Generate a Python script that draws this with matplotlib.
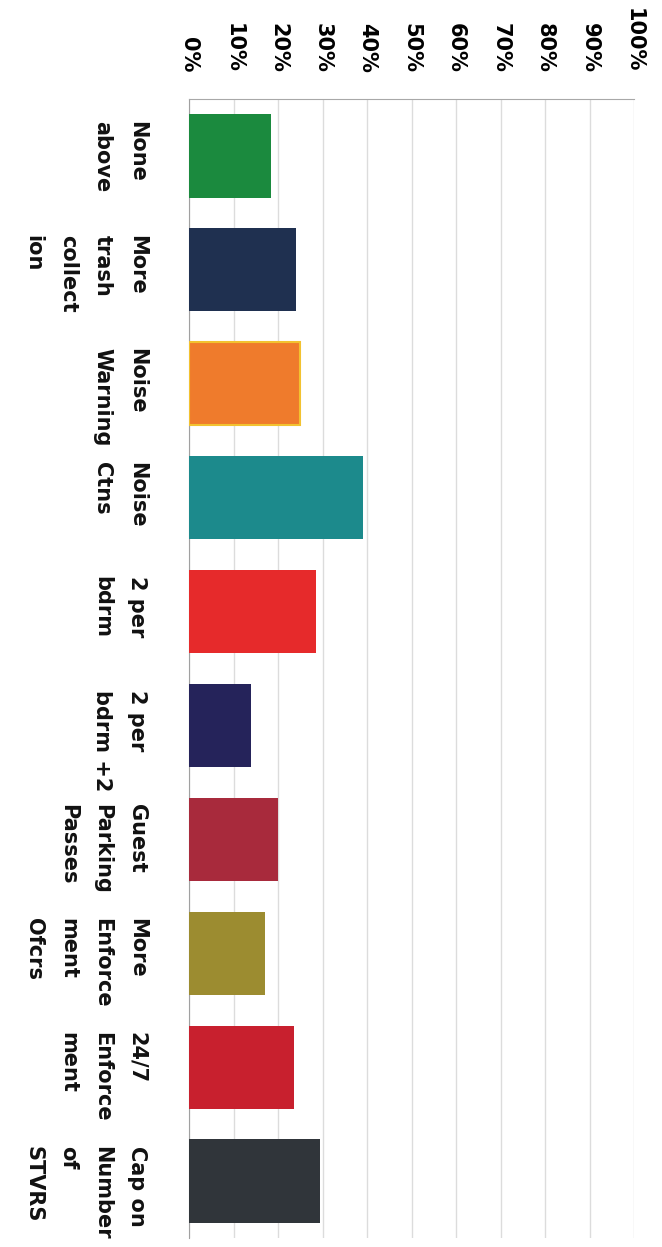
import matplotlib.pyplot as plt

# Survey results (share of respondents), chart is drawn rotated like the scan
labels = ["None\nabove", "More\ntrash\ncollect\nion", "Noise\nWarning", "Noise\nCtns",
          "2 per\nbdrm", "2 per\nbdrm +2", "Guest\nParking\nPasses",
          "More\nEnforce\nment\nOfcrs", "24/7\nEnforce\nment", "Cap on\nNumber\nof\nSTVRS"]
values = [18.5, 24, 25, 39, 28.5, 14, 20, 17, 23.5, 29.5]
colors = ["#1b8a3e", "#1f3050", "#ef7b2c", "#1c8a8c", "#e62a2b",
          "#25235a", "#a82a3c", "#9c8c30", "#c8202e", "#30353a"]
ticks = list(range(0, 101, 10))

fig = plt.figure(figsize=(6.62, 12.47), dpi=100)
ax = fig.add_axes([189 / 662, 1 - 1238 / 1247, 445 / 662, (1238 - 99) / 1247])

pos = list(range(len(values)))
bars = ax.barh(pos, values, height=0.73, color=colors, zorder=3)
bars[2].set_edgecolor("#f2c230")
bars[2].set_linewidth(1.5)

ax.set_xlim(0, 100)
ax.set_ylim(len(values) - 0.5, -0.5)
ax.xaxis.tick_top()
ax.set_xticks(ticks)
ax.set_xticklabels([f"{t}%" for t in ticks])
ax.tick_params(axis="x", length=0, pad=19, labelrotation=-90, labelsize=15)
for t in ax.get_xticklabels():
    t.set_fontweight("bold")
ax.set_yticks([])
ax.grid(axis="x", color="#dcdcdc", linewidth=1, zorder=0)

for s in ["right", "bottom"]:
    ax.spines[s].set_visible(False)
ax.spines["top"].set_color("#a8a8a8")
ax.spines["left"].set_color("#a0a0a0")

for p, lab in zip(pos, labels):
    ax.text(-0.095, p - 0.31, lab, transform=ax.get_yaxis_transform(),
            rotation=-90, rotation_mode="anchor", ha="left", va="top",
            multialignment="left", linespacing=1.9,
            fontsize=15, fontweight="bold", color="#111111")

fig.savefig("out.png", dpi=100)
